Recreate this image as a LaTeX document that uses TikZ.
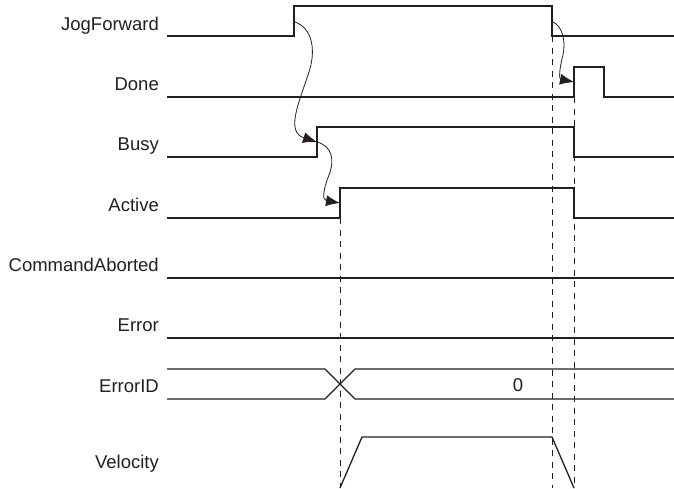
\documentclass[tikz,border=0pt]{standalone}
\usepackage{fontspec}
\setmainfont{Liberation Sans}
\usetikzlibrary{arrows.meta}
\definecolor{ink}{RGB}{35,31,32}
\begin{document}
\begin{tikzpicture}[x=1pt,y=-1pt,
  lbl/.style={anchor=base east,inner sep=0pt,text=ink,font=\fontsize{18.5}{22}\selectfont},
  val/.style={anchor=base,inner sep=0pt,text=ink,font=\fontsize{18.5}{22}\selectfont},
  wave/.style={draw=ink,line width=1.3pt,line join=miter},
  guide/.style={draw=ink,line width=0.9pt,dash pattern=on 6pt off 5.5pt},
  cause/.style={draw=ink,line width=0.8pt,-{Latex[length=14pt,width=11pt]}}]
\useasboundingbox (0,0) rectangle (674,488);
% labels
\node[lbl] (lJog) at (159,30) {JogForward};
\node[lbl] (lDone) at (159,90) {Done};
\node[lbl] (lBusy) at (159,150) {Busy};
\node[lbl] (lAct) at (159,211) {Active};
\node[lbl] (lCA) at (159,271) {CommandAborted};
\node[lbl] (lErr) at (159,331) {Error};
\node[lbl] (lEID) at (159,392) {ErrorID};
\node[lbl] (lVel) at (159,468) {Velocity};
\node[val] (vZero) at (518,391.5) {0};
% guides
\draw[guide] (340,218) -- (340,488);
\draw[guide] (552,36) -- (552,488);
\draw[guide] (574,97) -- (574,488);
% waveforms
\draw[wave] (167,36) -- (294,36) -- (294,6) -- (552,6) -- (552,36) -- (674,36);
\draw[wave] (167,97) -- (574,97) -- (574,67) -- (604,67) -- (604,97) -- (674,97);
\draw[wave] (167,157) -- (317,157) -- (317,127) -- (574,127) -- (574,157) -- (674,157);
\draw[wave] (167,218) -- (340,218) -- (340,188) -- (574,188) -- (574,218) -- (674,218);
\draw[wave] (167,278) -- (674,278);
\draw[wave] (167,338) -- (674,338);
\draw[wave] (167,369) -- (325,369) -- (355,399) -- (674,399);
\draw[wave] (167,399) -- (325,399) -- (355,369) -- (674,369);
\draw[wave] (340,488) -- (362,437) -- (552,437) -- (574,488);
% cause-effect arrows
\coordinate (jogUp) at (295,22);
\coordinate (busyUp) at (317,142);
\coordinate (actUp) at (340,203);
\coordinate (jogDown) at (553,22);
\coordinate (doneUp) at (574,82);
\draw[cause] (jogUp) .. controls (312,28) and (317,50) .. (308,75)
  .. controls (298,105) and (286,132) .. (busyUp);
\draw[cause] (busyUp) .. controls (332,146) and (335,160) .. (329,175)
  .. controls (323,190) and (322,200) .. (actUp);
\draw[cause] (jogDown) .. controls (562,26) and (566,40) .. (563,55)
  .. controls (559,70) and (559,79) .. (doneUp);
\end{tikzpicture}
\end{document}
